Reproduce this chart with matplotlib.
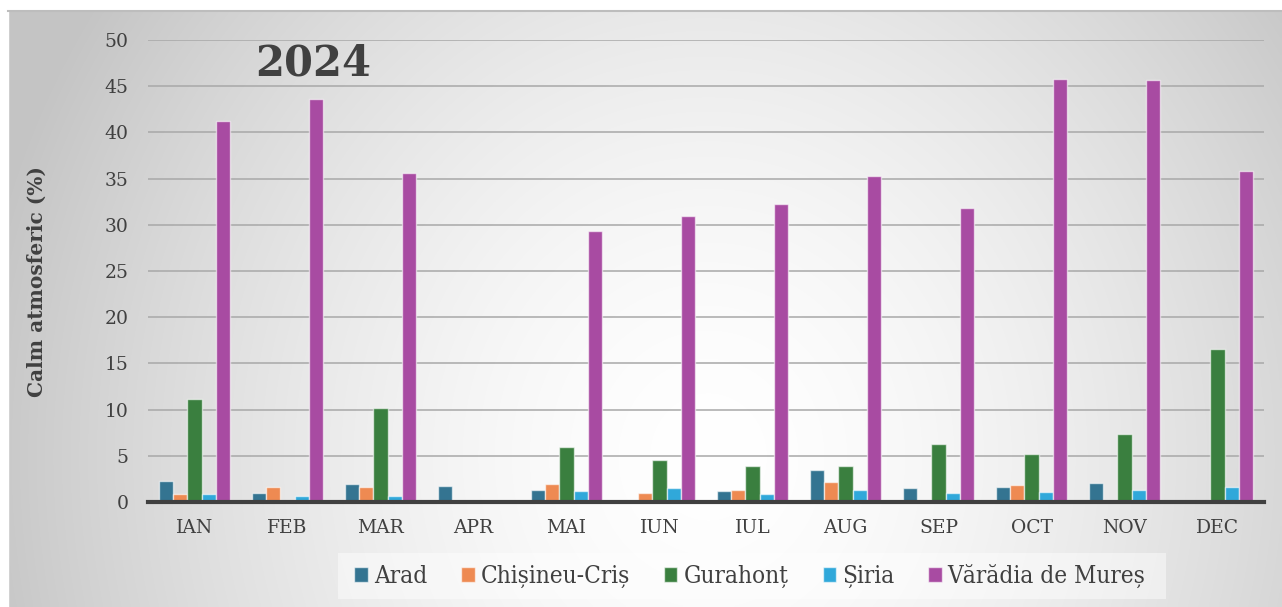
import numpy as np
import matplotlib
matplotlib.use("Agg")
import matplotlib.pyplot as plt
from matplotlib.patches import Rectangle

months = ["IAN", "FEB", "MAR", "APR", "MAI", "IUN", "IUL", "AUG", "SEP", "OCT", "NOV", "DEC"]
arad = [2.3, 0.95, 1.95, 1.7, 1.3, 0, 1.2, 3.45, 1.5, 1.6, 2.05, 0]
chisineu = [0.85, 1.65, 1.6, 0, 1.95, 0.95, 1.3, 2.15, 0, 1.85, 0, 0]
gurahont = [11.2, 0, 10.15, 0, 6.0, 4.55, 3.95, 3.95, 6.25, 5.15, 7.35, 16.6]
siria = [0.85, 0.7, 0.7, 0, 1.2, 1.5, 0.85, 1.3, 0.95, 1.1, 1.3, 1.6]
varadia = [41.2, 43.6, 35.6, 0, 29.3, 31.0, 32.3, 35.3, 31.8, 45.8, 45.7, 35.8]
series_names = ["Arad", "Chișineu-Criș", "Gurahonț", "Șiria", "Vărădia de Mureș"]
colors = ["#347491", "#ee8a52", "#3a7f3f", "#30a8da", "#a84ba2"]
yticks = [0, 5, 10, 15, 20, 25, 30, 35, 40, 45, 50]

W, H = 1282, 607
fig = plt.figure(figsize=(W / 100, H / 100), dpi=100)

# background gradient
bg = fig.add_axes([0, 0, 1, 1], zorder=-10)
bg.set_xlim(0, W)
bg.set_ylim(H, 0)
bg.axis("off")
xx, yy = np.meshgrid(np.linspace(0, 1, 400), np.linspace(0, 1, 200))
d = np.sqrt(((xx - 0.55) / 0.6) ** 2 + ((yy - 0.75) / 1.4) ** 2)
val = 1.0 - 0.24 * np.clip(d, 0, 1) ** 1.6
val = np.clip(val, 0.77, 1.0)
img = np.dstack([val, val, val])
bg.imshow(img, extent=[8, W, H, 10], aspect="auto", interpolation="bilinear", zorder=0)
bg.add_patch(Rectangle((0, 0), W, 10, color="white", zorder=1))
bg.add_patch(Rectangle((0, 0), 8, H, color="white", zorder=1))
bg.plot([8, W], [10.5, 10.5], color="#bdbdbd", lw=1.5, zorder=2)
# legend background box
bg.add_patch(Rectangle((338, 553), 828, 46, facecolor="white", alpha=0.45, edgecolor="none", zorder=2))

ax = fig.add_axes([148 / W, 1 - 502 / H, (1264 - 148) / W, (502 - 40) / H])
ax.patch.set_alpha(0)
x = np.arange(len(months))
w = 0.153
data = [arad, chisineu, gurahont, siria, varadia]
for i, (vals, c, name) in enumerate(zip(data, colors, series_names)):
    ax.bar(x + (i - 2) * w, vals, width=w, color=c, edgecolor=(1, 1, 1, 0.6),
           linewidth=1.0, label=name, zorder=3)

ax.set_xlim(-0.5, len(months) - 0.5)
ax.set_ylim(0, 50)
ax.set_yticks(yticks)
ax.set_xticks(x)
ax.set_xticklabels(months)
for s in ["top", "right", "left"]:
    ax.spines[s].set_visible(False)
ax.spines["bottom"].set_color("#404040")
ax.spines["bottom"].set_linewidth(3)
ax.spines["bottom"].set_zorder(5)
ax.yaxis.grid(True, color="#a8a8a8", lw=1.1, zorder=0)
ax.set_axisbelow(True)
ax.tick_params(axis="both", length=0, labelsize=13.5, colors="#404040")
ax.tick_params(axis="x", pad=12)
ax.tick_params(axis="y", pad=14)
for lab in ax.get_xticklabels() + ax.get_yticklabels():
    lab.set_fontfamily("DejaVu Serif")

ax.set_ylabel("Calm atmosferic (%)", fontsize=14.5, fontweight="bold",
              fontfamily="DejaVu Serif", color="#404040")
ax.yaxis.set_label_coords(-0.0905, 0.478)

fig.text(313 / W, 1 - 63 / H, "2024", fontsize=30, fontweight="bold",
         fontfamily="DejaVu Serif", color="#404040", ha="center", va="center")

leg = fig.legend(loc="center", bbox_to_anchor=(750 / W, 1 - 576 / H), ncol=5,
                 frameon=False, prop={"family": "DejaVu Serif", "size": 17.5, "stretch": "condensed"},
                 handlelength=0.55, handleheight=0.55, handletextpad=0.25, columnspacing=1.4)
for t in leg.get_texts():
    t.set_color("#404040")

fig.savefig("out.png", dpi=100)
